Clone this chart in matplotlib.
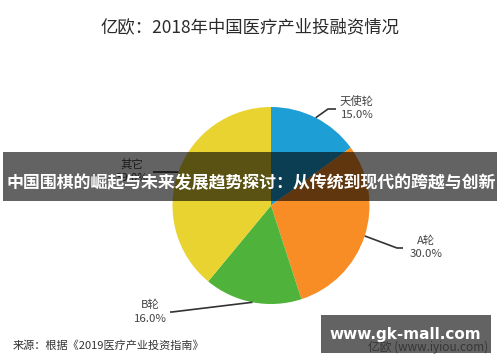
import matplotlib
matplotlib.use("Agg")
import matplotlib.pyplot as plt
from matplotlib.patches import Rectangle
import numpy as np

plt.rcParams['font.family'] = ['Noto Sans CJK SC', 'DejaVu Sans']

# data
rounds = ['天使轮', 'A轮', 'B轮', '其它']
shares = [15.0, 30.0, 16.0, 39.0]
colors = ['#1d9fd6', '#f78d24', '#4fb23a', '#e8d330']

title = '亿欧：2018年中国医疗产业投融资情况'
banner = '中国围棋的崛起与未来发展趋势探讨：从传统到现代的跨越与创新'
source = '来源：根据《2019医疗产业投资指南》'

W, H = 500, 362


def py(y):
    # pixel row (top = 0) -> data y
    return H - y


fig = plt.figure(figsize=(W / 100, H / 100), dpi=100)
ax = fig.add_axes([0, 0, 1, 1])

cx, cy, r = 271, 205.5, 98.5
wedges, _ = ax.pie(shares, colors=colors, startangle=90, counterclock=False,
                   center=(cx, py(cy)), radius=r,
                   wedgeprops=dict(linewidth=0))
ax.set_xlim(0, W)
ax.set_ylim(0, H)
ax.set_aspect('auto')
ax.axis('off')

# leader line layout: elbow, end, text centre x, name y, pct y (pixels)
layout = {
    '天使轮': ((328, 109), (336, 109), 357, 101, 115),
    'A轮': ((397, 248), (403, 248), 426, 241, 254),
    'B轮': ((172, 312), (170, 312), 150, 305, 319),
    '其它': ((165, 172), (153, 172), 132, 164, 178),
}

for w, name, val in zip(wedges, rounds, shares):
    mid = np.deg2rad((w.theta1 + w.theta2) / 2)
    ex = cx + r * np.cos(mid)
    ey = py(cy) + r * np.sin(mid)
    (bx, by), (tx, ty), lx, ny, pyy = layout[name]
    ax.plot([ex, bx, tx], [ey, py(by), py(ty)], color='#333333', lw=1.2,
            solid_capstyle='butt')
    ax.text(lx, py(ny), name, ha='center', va='center', fontsize=8.2,
            color='#444444')
    ax.text(lx, py(pyy), f'{val:.1f}%', ha='center', va='center',
            fontsize=8.2, color='#444444')

ax.text(250, py(27), title, ha='center', va='center', fontsize=12.5,
        color='#2a2a2a')
ax.text(13, py(346), source, ha='left', va='center', fontsize=8,
        color='#333333')

# overlay banner across the middle
ax.add_patch(Rectangle((3, py(201)), 494, 49, facecolor='black', alpha=0.61,
                       edgecolor='none', zorder=5))
ax.text(251, py(183), banner, ha='center', va='center', fontsize=12.2,
        fontweight='bold', color='white', zorder=6)

# watermark at the bottom right
ax.text(368, py(347), '亿欧 (www.iyiou.com)', ha='left', va='center',
        fontsize=8.5, color='#8a8a8a', zorder=4)
ax.add_patch(Rectangle((321, py(353)), 170, 38, facecolor='black', alpha=0.61,
                       edgecolor='none', zorder=5))
ax.text(405, py(335), 'www.gk-mall.com', ha='center', va='center',
        fontsize=11, fontweight='bold', color='white',
        family='DejaVu Sans', zorder=6)

fig.savefig('out.png', dpi=100)
